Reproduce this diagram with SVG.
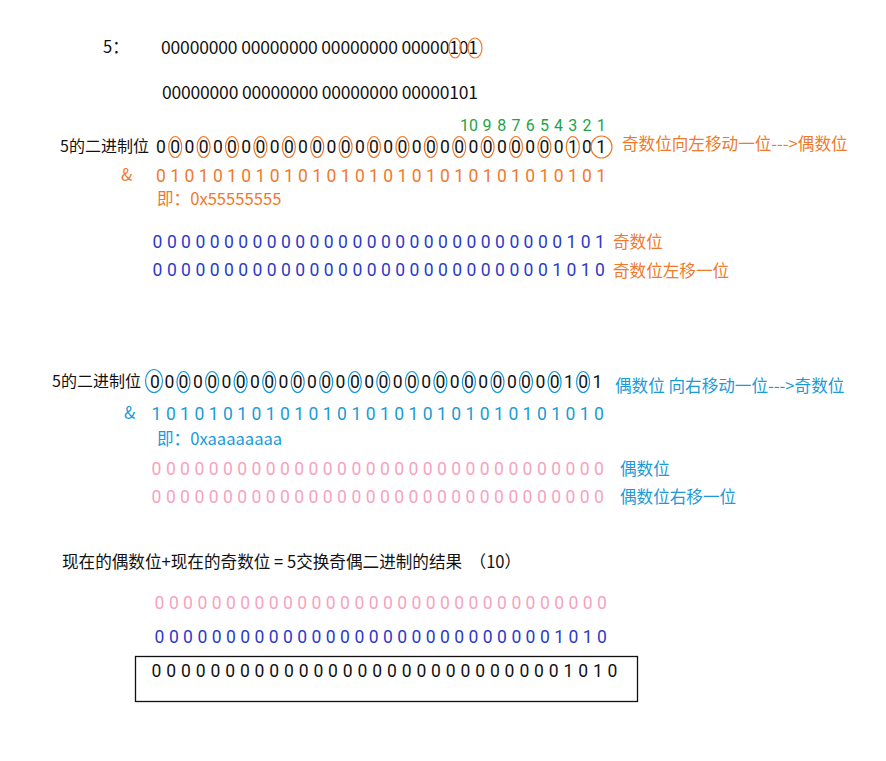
<svg xmlns="http://www.w3.org/2000/svg" width="886" height="761" viewBox="0 0 886 761">
<style>
text{font-family:"Noto Sans CJK SC","Noto Sans",sans-serif;font-size:16.6px}
.d{text-anchor:middle;font-size:17.5px;font-family:Roboto,"Noto Sans",sans-serif}
.gn{text-anchor:middle;font-size:16px;fill:#1ea446;font-family:Roboto,"Noto Sans",sans-serif}
.lab{font-size:16px}
.k{fill:#111}
.o{fill:#ef7a2c}
.b{fill:#2b3bc9}
.lb{fill:#1a9ad8}
.p{fill:#f6a3c0}
.co{fill:none;stroke:#ef7a2c;stroke-width:1.2}
.cb{fill:none;stroke:#1a9ad8;stroke-width:1.2}
</style>
<rect width="886" height="761" fill="#fff"/>
<g id="top">
<text class="k" x="103" y="53">5：</text>
<text class="k" style="font-size:17.5px" x="161" y="54" textLength="317" lengthAdjust="spacing">00000000 00000000 00000000 00000101</text>
<text class="k" style="font-size:17.5px" x="162" y="99" textLength="316" lengthAdjust="spacing">00000000 00000000 00000000 00000101</text>
<ellipse class="co" cx="455" cy="48" rx="6" ry="10"/>
<ellipse class="co" cx="475" cy="48" rx="7" ry="10"/>
</g>
<g id="sec1">
<g id="bitnums">
<text class="gn" x="469" y="131">10</text>
<text class="gn" x="487" y="131">9</text>
<text class="gn" x="501.8" y="131">8</text>
<text class="gn" x="516" y="131">7</text>
<text class="gn" x="530.2" y="131">6</text>
<text class="gn" x="544.4" y="131">5</text>
<text class="gn" x="558.6" y="131">4</text>
<text class="gn" x="572.8" y="131">3</text>
<text class="gn" x="587" y="131">2</text>
<text class="gn" x="601.2" y="131">1</text>
</g>
<text class="k lab" x="60" y="152">5的二进制位</text>
<text class="k d" y="153" x="161 175.2 189.4 203.6 217.8 232 246.2 260.4 274.6 288.8 303 317.2 331.4 345.6 359.8 374 388.2 402.4 416.6 430.8 445 459.2 473.4 487.6 501.8 516 530.2 544.4 558.6 572.8 587 601.2">00000000000000000000000000000101</text>
<g id="circ1">
<ellipse class="co" cx="175.2" cy="147" rx="6.5" ry="10.5"/>
<ellipse class="co" cx="203.6" cy="147" rx="6.5" ry="10.5"/>
<ellipse class="co" cx="232" cy="147" rx="6.5" ry="10.5"/>
<ellipse class="co" cx="260.4" cy="147" rx="6.5" ry="10.5"/>
<ellipse class="co" cx="288.8" cy="147" rx="6.5" ry="10.5"/>
<ellipse class="co" cx="317.2" cy="147" rx="6.5" ry="10.5"/>
<ellipse class="co" cx="345.6" cy="147" rx="6.5" ry="10.5"/>
<ellipse class="co" cx="374" cy="147" rx="6.5" ry="10.5"/>
<ellipse class="co" cx="402.4" cy="147" rx="6.5" ry="10.5"/>
<ellipse class="co" cx="430.8" cy="147" rx="6.5" ry="10.5"/>
<ellipse class="co" cx="459.2" cy="147" rx="6.5" ry="10.5"/>
<ellipse class="co" cx="487.6" cy="147" rx="6.5" ry="10.5"/>
<ellipse class="co" cx="516" cy="147" rx="6.5" ry="10.5"/>
<ellipse class="co" cx="544.4" cy="147" rx="6.5" ry="10.5"/>
<ellipse class="co" cx="572.8" cy="147" rx="6.5" ry="10.5"/>
<ellipse class="co" cx="601.5" cy="147" rx="10.5" ry="11"/>
</g>
<text class="o" x="622" y="150">奇数位向左移动一位---&gt;偶数位</text>
<text class="o" x="121" y="181">&amp;</text>
<text class="o d" y="182" x="161 175.2 189.4 203.6 217.8 232 246.2 260.4 274.6 288.8 303 317.2 331.4 345.6 359.8 374 388.2 402.4 416.6 430.8 445 459.2 473.4 487.6 501.8 516 530.2 544.4 558.6 572.8 587 601.2">01010101010101010101010101010101</text>
<text class="o" x="157" y="205">即：0x55555555</text>
<text class="b d" y="248" x="157.5 171.8 186 200.3 214.6 228.9 243.1 257.4 271.7 285.9 300.2 314.5 328.7 343 357.3 371.6 385.8 400.1 414.4 428.6 442.9 457.2 471.4 485.7 500 514.3 528.5 542.8 557.1 571.3 585.6 599.9">00000000000000000000000000000101</text>
<text class="o" x="613" y="248">奇数位</text>
<text class="b d" y="276" x="157.5 171.8 186 200.3 214.6 228.9 243.1 257.4 271.7 285.9 300.2 314.5 328.7 343 357.3 371.6 385.8 400.1 414.4 428.6 442.9 457.2 471.4 485.7 500 514.3 528.5 542.8 557.1 571.3 585.6 599.9">00000000000000000000000000001010</text>
<text class="o" x="613" y="277">奇数位左移一位</text>
</g>
<g id="sec2">
<text class="k lab" x="52" y="387">5的二进制位</text>
<text class="k d" y="388" x="155 169.3 183.5 197.8 212.1 226.4 240.6 254.9 269.2 283.4 297.7 312 326.2 340.5 354.8 369.1 383.3 397.6 411.9 426.1 440.4 454.7 468.9 483.2 497.5 511.8 526 540.3 554.6 568.8 583.1 597.4">00000000000000000000000000000101</text>
<g id="circ2">
<ellipse class="cb" cx="154" cy="381" rx="8.5" ry="11.5"/>
<ellipse class="cb" cx="183.5" cy="382" rx="6.5" ry="10.5"/>
<ellipse class="cb" cx="212.1" cy="382" rx="6.5" ry="10.5"/>
<ellipse class="cb" cx="240.6" cy="382" rx="6.5" ry="10.5"/>
<ellipse class="cb" cx="269.2" cy="382" rx="6.5" ry="10.5"/>
<ellipse class="cb" cx="297.7" cy="382" rx="6.5" ry="10.5"/>
<ellipse class="cb" cx="326.2" cy="382" rx="6.5" ry="10.5"/>
<ellipse class="cb" cx="354.8" cy="382" rx="6.5" ry="10.5"/>
<ellipse class="cb" cx="383.3" cy="382" rx="6.5" ry="10.5"/>
<ellipse class="cb" cx="411.9" cy="382" rx="6.5" ry="10.5"/>
<ellipse class="cb" cx="440.4" cy="382" rx="6.5" ry="10.5"/>
<ellipse class="cb" cx="468.9" cy="382" rx="6.5" ry="10.5"/>
<ellipse class="cb" cx="497.5" cy="382" rx="6.5" ry="10.5"/>
<ellipse class="cb" cx="526" cy="382" rx="6.5" ry="10.5"/>
<ellipse class="cb" cx="554.6" cy="382" rx="6.5" ry="10.5"/>
<ellipse class="cb" cx="583.1" cy="382" rx="6.5" ry="10.5"/>
</g>
<text class="lb" x="615" y="392">偶数位 向右移动一位---&gt;奇数位</text>
<text class="lb" x="124" y="419">&amp;</text>
<text class="lb d" y="420" x="156.5 170.8 185 199.3 213.6 227.9 242.1 256.4 270.7 284.9 299.2 313.5 327.7 342 356.3 370.6 384.8 399.1 413.4 427.6 441.9 456.2 470.4 484.7 499 513.3 527.5 541.8 556.1 570.3 584.6 598.9">10101010101010101010101010101010</text>
<text class="lb" x="157" y="445">即：0xaaaaaaaa</text>
<text class="p d" y="475" x="156.5 170.8 185 199.3 213.6 227.9 242.1 256.4 270.7 284.9 299.2 313.5 327.7 342 356.3 370.6 384.8 399.1 413.4 427.6 441.9 456.2 470.4 484.7 499 513.3 527.5 541.8 556.1 570.3 584.6 598.9">00000000000000000000000000000000</text>
<text class="lb" x="620" y="475">偶数位</text>
<text class="p d" y="503" x="156.5 170.8 185 199.3 213.6 227.9 242.1 256.4 270.7 284.9 299.2 313.5 327.7 342 356.3 370.6 384.8 399.1 413.4 427.6 441.9 456.2 470.4 484.7 499 513.3 527.5 541.8 556.1 570.3 584.6 598.9">00000000000000000000000000000000</text>
<text class="lb" x="620" y="503">偶数位右移一位</text>
</g>
<g id="result">
<text class="k" x="62" y="568" xml:space="preserve">现在的偶数位+现在的奇数位 = 5交换奇偶二进制的结果  （10）</text>
<text class="p d" y="609" x="159.5 173.8 188 202.3 216.6 230.9 245.1 259.4 273.7 287.9 302.2 316.5 330.7 345 359.3 373.6 387.8 402.1 416.4 430.6 444.9 459.2 473.4 487.7 502 516.3 530.5 544.8 559.1 573.3 587.6 601.9">00000000000000000000000000000000</text>
<text class="b d" y="643" x="159.5 173.8 188 202.3 216.6 230.9 245.1 259.4 273.7 287.9 302.2 316.5 330.7 345 359.3 373.6 387.8 402.1 416.4 430.6 444.9 459.2 473.4 487.7 502 516.3 530.5 544.8 559.1 573.3 587.6 601.9">00000000000000000000000000001010</text>
<rect x="135.5" y="656.5" width="502" height="45" fill="none" stroke="#111" stroke-width="1.3"/>
<text class="k d" y="677" x="156.5 171.2 185.9 200.6 215.3 230.1 244.8 259.5 274.2 288.9 303.6 318.3 333 347.7 362.4 377.2 391.9 406.6 421.3 436 450.7 465.4 480.1 494.8 509.5 524.3 539 553.7 568.4 583.1 597.8 612.5">00000000000000000000000000001010</text>
</g>
</svg>
